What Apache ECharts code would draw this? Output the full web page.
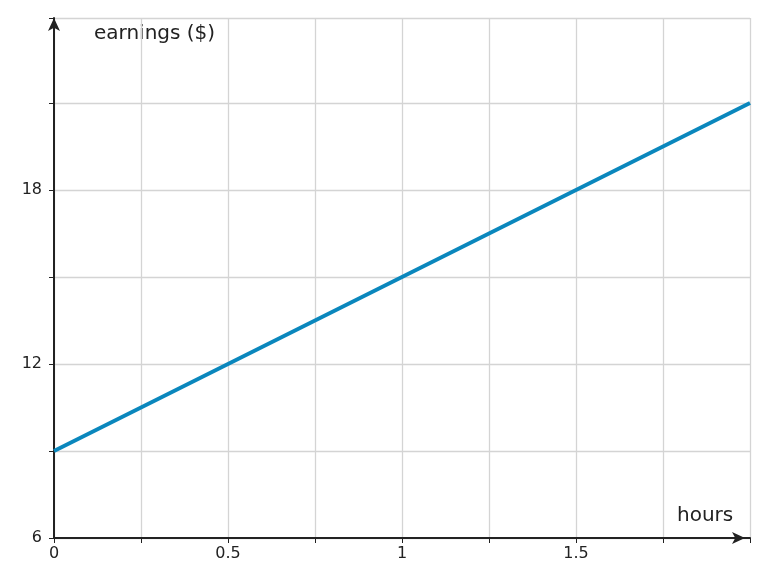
<!DOCTYPE html>
<html><head><meta charset="utf-8">
<script src="https://cdn.jsdelivr.net/npm/echarts@6/dist/echarts.min.js"></script>
<style>html,body{margin:0;padding:0;background:#fff}#c{width:767px;height:587px}</style>
</head><body><div id="c"></div>
<script>
const hours = [0, 2];
const earnings = [9, 21];
const xTickLabels = ['0', '0.5', '1', '1.5'];
const yTickLabels = ['6', '12', '18'];

const chart = echarts.init(document.getElementById('c'));
const font = 'DejaVu Sans';
chart.setOption({
  animation: false,
  grid: {left: 54, right: 17, top: 18, bottom: 49},
  xAxis: {
    type: 'value', min: 0, max: 2, interval: 0.25,
    axisLine: {lineStyle: {color: '#222', width: 2}, symbol: ['none', 'arrow'], symbolSize: [9, 13], symbolOffset: [0, -5]},
    axisTick: {show: true, length: 5, lineStyle: {color: '#222'}, interval: 0},
    splitLine: {show: true, lineStyle: {color: '#d4d4d4', width: 1.3}},
    axisLabel: {fontFamily: font, fontSize: 16, color: '#222', margin: 8,
      formatter: v => { const s = String(+v.toFixed(2)); return xTickLabels.includes(s) ? s : ''; }}
  },
  yAxis: {
    type: 'value', min: 6, max: 23.93, interval: 3,
    axisLine: {show: true, lineStyle: {color: '#222', width: 2}, symbol: ['none', 'arrow'], symbolSize: [9, 13]},
    axisTick: {show: true, length: 5, lineStyle: {color: '#222'}},
    splitLine: {show: true, lineStyle: {color: '#d4d4d4', width: 1.3}},
    axisLabel: {fontFamily: font, fontSize: 16, color: '#222', margin: 12,
      formatter: v => { const s = String(+v.toFixed(2)); return yTickLabels.includes(s) ? s : ''; }}
  },
  graphic: [
    {type: 'text', left: 94, top: 24, style: {text: 'earnings ($)', font: '20px "DejaVu Sans"', fill: '#222'}},
    {type: 'text', left: 677, top: 506, style: {text: 'hours', font: '20px "DejaVu Sans"', fill: '#222'}}
  ],
  series: [{
    type: 'line', data: hours.map((h, i) => [h, earnings[i]]),
    showSymbol: false, lineStyle: {color: '#0a87bd', width: 4}
  }]
});
</script></body></html>
